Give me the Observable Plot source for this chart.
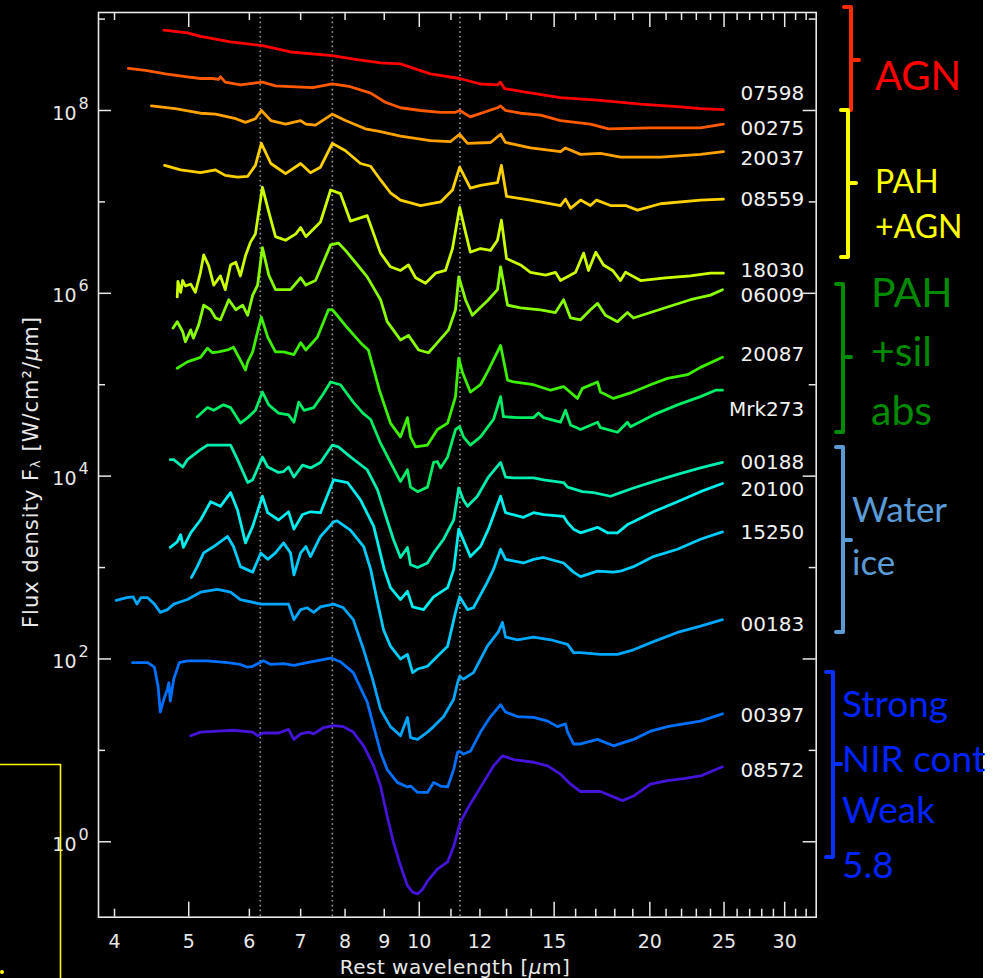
<!DOCTYPE html>
<html><head><meta charset="utf-8">
<script src="https://cdn.jsdelivr.net/npm/d3@7"></script>
<script src="https://cdn.jsdelivr.net/npm/@observablehq/plot@0.6"></script>
<style>html,body{margin:0;padding:0;background:#fff;} #chart svg{display:block;}</style>
</head><body><div id="chart"></div>
<script>
// ---- spectra: rest wavelength (µm) and log10 flux density ----
const wave07598 = [4.64,4.98,5.18,5.67,6.24,6.79,7.70,8.25,8.90,9.45,10.34,11.29,12.02,12.65,12.77,12.92,13.76,15.28,17.24,19.44,21.93,23.29,24.95];
const logF07598 = [8.88,8.85,8.81,8.75,8.71,8.64,8.60,8.56,8.52,8.51,8.40,8.35,8.29,8.28,8.31,8.24,8.20,8.14,8.11,8.07,8.04,8.02,8.01];

const wave00275 = [4.17,4.39,4.66,4.95,5.18,5.37,5.47,5.50,5.58,5.84,6.24,6.49,6.79,7.26,7.70,8.13,8.64,9.03,9.45,10.04,10.66,11.15,11.29,11.66,12.65,12.77,12.96,13.56,14.40,15.29,16.73,17.66,20.04,23.29,24.95];
const logF00275 = [8.46,8.44,8.40,8.37,8.35,8.35,8.34,8.37,8.31,8.28,8.31,8.27,8.26,8.25,8.29,8.26,8.19,8.09,8.03,8.00,7.98,7.98,8.00,7.93,8.03,8.05,8.00,7.97,7.95,7.89,7.85,7.80,7.81,7.81,7.85];

const wave20037 = [4.47,4.80,5.18,5.42,5.76,5.93,6.11,6.22,6.40,6.69,7.00,7.11,7.32,7.70,8.01,8.50,8.90,9.45,10.34,10.98,11.29,11.56,12.39,12.77,12.96,13.97,15.29,15.52,16.24,17.24,18.31,20.65,23.29,24.95];
const logF20037 = [8.05,8.02,7.97,7.96,7.91,7.87,7.91,8.00,7.89,7.85,7.89,7.85,7.84,7.96,7.89,7.80,7.77,7.72,7.67,7.66,7.74,7.64,7.65,7.74,7.65,7.59,7.55,7.59,7.52,7.53,7.49,7.49,7.52,7.55];

const wave08559 = [4.65,4.88,5.18,5.42,5.58,5.79,5.97,6.11,6.22,6.40,6.69,7.00,7.21,7.43,7.70,8.01,8.38,8.64,8.90,9.17,9.45,10.04,10.66,11.05,11.29,11.66,12.02,12.65,12.80,13.00,13.97,15.29,15.52,15.76,16.24,16.73,17.04,17.77,18.59,19.27,20.65,23.29,24.95];
const logF08559 = [7.40,7.35,7.32,7.35,7.29,7.27,7.28,7.40,7.64,7.42,7.31,7.42,7.32,7.38,7.64,7.56,7.42,7.39,7.24,7.10,7.02,6.96,7.00,7.13,7.38,7.15,7.18,7.21,7.40,7.06,7.02,6.96,7.03,6.93,7.02,6.96,7.02,6.96,6.96,6.91,6.98,7.02,7.03];

const wave18030 = [4.83,4.84,4.88,4.91,4.95,5.03,5.10,5.18,5.23,5.31,5.39,5.50,5.58,5.67,5.76,5.84,5.93,6.02,6.11,6.24,6.36,6.49,6.69,6.90,7.00,7.11,7.43,7.66,7.89,8.13,8.55,8.90,9.17,9.45,9.68,9.89,10.19,10.50,10.82,11.05,11.29,11.49,11.66,12.02,12.39,12.65,12.80,13.00,13.56,13.97,14.62,15.06,15.29,16.00,16.39,16.63,17.00,17.40,17.88,18.31,18.59,19.45,20.97,22.60,24.00,24.95];
const logF18030 = [5.96,6.13,6.01,6.14,6.08,6.10,6.01,6.23,6.42,6.30,6.09,6.19,6.04,6.31,6.34,6.19,6.41,6.56,6.65,7.16,6.89,6.62,6.58,6.65,6.72,6.62,6.78,7.13,7.09,6.79,6.85,6.44,6.29,6.25,6.31,6.17,6.11,6.22,6.25,6.49,6.94,6.67,6.45,6.49,6.47,6.58,6.80,6.38,6.31,6.23,6.20,6.23,6.14,6.23,6.44,6.25,6.45,6.31,6.25,6.14,6.23,6.14,6.17,6.19,6.22,6.22];

const wave06009 = [4.77,4.83,4.91,4.95,5.03,5.07,5.15,5.23,5.34,5.42,5.50,5.64,5.76,5.88,5.97,6.06,6.15,6.24,6.36,6.49,6.79,7.00,7.11,7.32,7.66,7.84,8.01,8.25,8.55,8.90,9.08,9.45,9.68,9.98,10.28,10.56,10.92,11.15,11.26,11.49,11.73,12.31,12.65,12.77,13.04,13.56,14.40,15.06,15.43,15.76,16.24,16.73,17.09,17.50,18.15,18.70,19.04,20.04,21.09,22.60,24.00,24.88];
const logF06009 = [5.62,5.69,5.58,5.47,5.60,5.51,5.65,5.87,5.82,5.73,5.71,5.93,5.82,5.87,5.76,5.98,6.09,6.50,6.20,6.04,6.04,6.17,6.09,6.14,6.53,6.55,6.47,6.34,6.18,5.93,5.69,5.49,5.54,5.38,5.35,5.46,5.60,5.82,6.18,5.93,5.76,5.93,6.04,6.29,5.87,5.84,5.82,5.79,5.93,5.73,5.71,5.82,5.89,5.76,5.69,5.79,5.73,5.79,5.85,5.93,5.98,6.04];

const wave20087 = [4.83,4.98,5.18,5.29,5.37,5.47,5.62,5.72,5.84,5.93,5.97,6.06,6.15,6.22,6.34,6.49,6.65,6.86,7.00,7.11,7.36,7.61,7.70,7.81,8.06,8.38,8.58,8.87,9.17,9.45,9.65,9.74,9.89,10.25,10.56,10.89,11.15,11.26,11.39,11.66,12.02,12.31,12.77,13.04,13.28,14.10,14.84,15.43,16.09,16.33,17.09,17.24,17.93,18.87,20.04,21.09,22.40,23.29,24.88];
const logF20087 = [5.18,5.25,5.30,5.40,5.35,5.36,5.38,5.41,5.27,5.16,5.25,5.36,5.58,5.74,5.52,5.36,5.36,5.33,5.46,5.38,5.52,5.82,5.82,5.76,5.62,5.46,5.38,4.94,4.58,4.43,4.64,4.43,4.32,4.34,4.51,4.58,4.87,5.29,5.13,4.92,5.00,5.16,5.43,5.05,5.03,5.00,4.94,4.98,4.85,4.96,5.03,4.92,4.85,4.91,5.00,5.07,5.11,5.19,5.30];

const waveMrk273 = [5.13,5.29,5.39,5.55,5.67,5.84,5.97,6.11,6.24,6.36,6.55,6.75,6.86,6.96,7.07,7.28,7.48,7.66,7.89,8.20,8.44,8.64,8.90,9.17,9.45,9.65,9.74,9.95,10.25,10.44,10.56,10.66,10.89,11.15,11.29,11.42,11.66,12.02,12.50,12.77,12.88,13.43,14.10,14.31,14.53,15.29,15.52,15.76,16.24,17.09,17.24,18.15,18.70,18.87,20.22,21.73,23.29,24.37,24.88];
const logFMrk273 = [4.65,4.75,4.72,4.78,4.75,4.58,4.64,4.72,4.92,4.78,4.69,4.67,4.59,4.81,4.72,4.75,4.89,5.03,5.00,4.81,4.69,4.62,4.36,4.15,3.94,4.07,3.88,3.83,3.88,4.15,4.16,4.09,4.21,4.51,4.54,4.43,4.34,4.43,4.62,4.87,4.65,4.64,4.64,4.69,4.64,4.59,4.72,4.56,4.51,4.59,4.53,4.48,4.59,4.54,4.67,4.78,4.87,4.94,4.94];

const wave00188 = [4.73,4.78,4.91,4.98,5.18,5.29,5.67,5.79,5.97,6.06,6.24,6.34,6.55,6.65,6.75,6.86,7.04,7.21,7.43,7.70,7.84,8.13,8.55,8.82,9.03,9.25,9.45,9.65,9.74,9.95,10.25,10.44,10.76,11.09,11.26,11.42,11.56,11.91,12.31,12.77,12.96,13.28,14.10,14.53,15.43,15.62,16.33,16.89,17.77,18.31,19.04,20.22,21.73,23.29,24.88];
const logF00188 = [4.18,4.18,4.10,4.18,4.29,4.34,4.34,4.18,3.93,3.96,4.21,4.10,4.04,4.05,4.10,3.99,4.12,4.09,4.15,4.34,4.32,4.21,4.07,3.85,3.58,3.31,3.11,3.22,3.03,3.00,3.05,3.16,3.31,3.52,3.87,3.74,3.67,3.78,3.99,4.15,3.99,3.98,3.98,3.96,3.93,3.88,3.83,3.82,3.78,3.82,3.87,3.94,4.02,4.09,4.15];

const wave20100 = [4.73,4.83,4.88,4.92,5.03,5.18,5.34,5.50,5.67,5.79,5.93,6.06,6.24,6.34,6.55,6.75,6.86,7.04,7.21,7.43,7.73,8.06,8.38,8.72,9.00,9.17,9.45,9.65,9.80,10.13,10.44,10.89,11.09,11.26,11.66,12.02,12.31,12.77,12.96,13.68,14.10,14.53,15.43,15.62,15.90,16.24,17.09,17.61,18.15,18.70,19.04,20.22,21.73,23.29,24.88];
const logF20100 = [3.22,3.28,3.36,3.22,3.38,3.52,3.72,3.67,3.82,3.63,3.27,3.45,3.78,3.60,3.52,3.61,3.42,3.58,3.61,3.60,3.96,3.93,3.74,3.45,2.98,2.78,2.65,2.74,2.57,2.54,2.68,2.78,2.98,3.42,3.12,3.23,3.42,3.78,3.60,3.55,3.60,3.58,3.56,3.49,3.42,3.38,3.44,3.38,3.38,3.47,3.50,3.61,3.72,3.83,3.92];

const wave15250 = [5.04,5.13,5.23,5.39,5.62,5.72,5.84,6.06,6.21,6.34,6.49,6.65,6.79,6.86,7.00,7.11,7.21,7.43,7.73,7.81,8.13,8.46,8.64,8.82,8.98,9.17,9.45,9.65,9.80,9.95,10.25,10.56,10.89,11.15,11.29,11.56,11.77,12.27,12.50,12.77,12.96,13.68,14.10,14.53,15.43,15.90,16.24,17.09,17.93,18.31,19.04,20.22,21.73,23.29,24.88];
const logF15250 = [2.89,3.01,3.16,3.23,3.34,3.23,3.01,2.95,3.16,3.09,3.16,3.27,3.16,2.92,3.16,3.23,3.12,3.34,3.50,3.51,3.41,3.23,2.98,2.62,2.32,2.14,2.00,2.05,1.85,1.89,1.92,2.03,2.14,2.51,2.68,2.54,2.56,2.84,2.98,3.20,3.09,3.05,3.09,3.11,3.05,2.95,2.90,2.96,2.95,2.96,3.01,3.12,3.20,3.31,3.39];

const wave00183 = [4.02,4.15,4.23,4.28,4.33,4.42,4.51,4.59,4.69,4.78,4.98,5.18,5.45,5.67,5.84,6.21,6.75,6.86,7.00,7.14,7.28,7.43,7.73,7.96,8.20,8.46,8.69,8.90,9.17,9.45,9.65,9.74,9.95,10.25,10.44,10.76,11.09,11.22,11.29,11.42,11.77,12.27,12.69,12.84,12.96,13.43,14.10,14.84,15.62,15.90,16.24,17.24,18.15,19.04,20.22,21.73,23.29,24.88];
const logF00183 = [2.64,2.67,2.68,2.60,2.67,2.67,2.60,2.51,2.54,2.60,2.65,2.73,2.76,2.73,2.65,2.60,2.60,2.43,2.54,2.56,2.51,2.57,2.60,2.56,2.43,2.10,1.78,1.45,1.26,1.16,1.36,1.14,1.12,1.20,1.26,1.37,1.56,1.74,1.81,1.78,1.85,2.14,2.30,2.40,2.24,2.21,2.24,2.21,2.16,2.07,2.07,2.05,2.05,2.10,2.19,2.29,2.36,2.43];

const wave00397 = [4.22,4.42,4.51,4.56,4.59,4.64,4.69,4.71,4.73,4.78,4.86,4.98,5.29,5.62,5.84,5.97,6.06,6.26,6.40,6.65,6.86,7.14,7.66,7.89,8.20,8.55,8.72,8.90,9.08,9.36,9.65,9.74,9.95,10.25,10.44,10.66,10.89,11.09,11.22,11.29,11.42,11.66,12.02,12.39,12.77,12.96,13.43,14.10,14.71,15.15,15.52,15.62,15.90,16.24,17.09,17.93,19.04,20.04,21.09,22.14,23.29,24.88];
const logF00397 = [1.96,1.96,1.91,1.70,1.42,1.56,1.67,1.74,1.54,1.78,1.96,1.98,1.98,1.96,1.94,1.91,1.92,1.98,1.94,1.95,1.93,1.96,2.01,1.97,1.85,1.53,1.26,0.98,0.79,0.65,0.60,0.61,0.54,0.54,0.65,0.61,0.60,0.79,0.98,0.99,0.96,0.99,1.20,1.37,1.50,1.42,1.37,1.36,1.32,1.26,1.29,1.20,1.07,1.07,1.12,1.05,1.12,1.21,1.26,1.29,1.32,1.40];

const wave08572 = [5.03,5.18,5.45,5.72,6.06,6.15,6.26,6.55,6.75,6.86,7.00,7.17,7.28,7.50,7.73,7.96,8.20,8.46,8.72,8.90,9.08,9.25,9.45,9.65,9.80,9.95,10.10,10.25,10.56,10.89,11.09,11.32,11.56,11.77,12.13,12.50,12.84,13.28,14.10,14.71,15.29,15.76,16.24,17.24,18.42,19.04,20.04,21.09,22.14,23.29,24.88];
const logF08572 = [1.16,1.20,1.21,1.22,1.20,1.16,1.19,1.19,1.23,1.12,1.18,1.20,1.18,1.25,1.27,1.26,1.20,1.05,0.83,0.61,0.28,0.00,-0.26,-0.48,-0.55,-0.57,-0.52,-0.43,-0.30,-0.22,-0.05,0.22,0.36,0.47,0.65,0.83,0.94,0.90,0.87,0.83,0.74,0.63,0.55,0.55,0.45,0.50,0.63,0.67,0.69,0.72,0.82];

// ---- series names, colours, label levels (log10 flux) ----
const names = ["07598","00275","20037","08559","18030","06009","20087","Mrk273","00188","20100","15250","00183","00397","08572"];
const colors = ["#ff0000","#ff5a00","#ffa200","#ffd000","#ccff00","#88ff00","#3cf000","#00ee66","#00eeb0","#00eeee","#00ccff","#00a6ff","#0070ff","#4414d8"];
const labelLogF = [8.19,7.80,7.47,7.02,6.25,5.98,5.33,4.73,4.15,3.85,3.38,2.38,1.38,0.78];
const waves = [wave07598,wave00275,wave20037,wave08559,wave18030,wave06009,wave20087,waveMrk273,wave00188,wave20100,wave15250,wave00183,wave00397,wave08572];
const logFs = [logF07598,logF00275,logF20037,logF08559,logF18030,logF06009,logF20087,logFMrk273,logF00188,logF20100,logF15250,logF00183,logF00397,logF08572];

// ---- axes ----
const featureLines = [6.2, 7.7, 11.3];
const xTickLabels = [4,5,6,7,8,9,10,12,15,20,25,30];
const xMajorTicks = [5,10,15,20,25,30];
const xMinorTicks = [4,6,7,8,9,11,12,13,14,16,17,18,19,21,22,23,24,26,27,28,29,31,32];
const yMajorTicks = [1e0,1e2,1e4,1e6,1e8];
const yMinorTicks = [1e1,1e3,1e5,1e7,1e9];

// ---- category annotations ----
const groupLines = [["AGN"],["PAH","+AGN"],["PAH","+sil","abs"],["Water","ice"],["Strong","NIR cont","Weak","5.8"]];
const groupColors = ["#ff0000","#ffff00","#008a00","#5b9bd5","#0022ff"];

const rows = names.flatMap((n, i) => waves[i].map((w, j) => ({name: n, wl: w, flux: Math.pow(10, logFs[i][j])})));
const labels = names.map((n, i) => ({name: n, flux: Math.pow(10, labelLogF[i])}));

const W = 1006, H = 978;
const fL = 98, fR = 815.7, fT = 12, fB = 916.7;
const pW = fR - fL, pH = fB - fT;
const axisColor = "#e8e8e8";
const font = "DejaVu Sans";

const chart = Plot.plot({
  width: W, height: H,
  marginLeft: fL, marginRight: W - fR, marginTop: fT, marginBottom: H - fB,
  style: {background: "transparent", fontFamily: font, color: axisColor, overflow: "visible"},
  x: {type: "log", domain: [3.812, 32.98], axis: null},
  y: {type: "log", domain: [Math.pow(10, -0.825), Math.pow(10, 9.072)], axis: null},
  color: {domain: names, range: colors},
  marks: [
    Plot.ruleX(featureLines, {stroke: "#9a9a9a", strokeWidth: 1.6, strokeDasharray: "1.6,3.2"}),
    Plot.line(rows, {x: "wl", y: "flux", z: "name", stroke: "name", strokeWidth: 2.8}),
    Plot.frame({stroke: axisColor, strokeWidth: 1.6}),
    Plot.ruleX(xMajorTicks, {stroke: axisColor, strokeWidth: 1.5, insetTop: pH - 15}),
    Plot.ruleX(xMajorTicks, {stroke: axisColor, strokeWidth: 1.5, insetBottom: pH - 15}),
    Plot.ruleX(xMinorTicks, {stroke: axisColor, strokeWidth: 1.5, insetTop: pH - 8}),
    Plot.ruleX(xMinorTicks, {stroke: axisColor, strokeWidth: 1.5, insetBottom: pH - 8}),
    Plot.ruleY(yMajorTicks, {stroke: axisColor, strokeWidth: 1.5, insetRight: pW - 13}),
    Plot.ruleY(yMajorTicks, {stroke: axisColor, strokeWidth: 1.5, insetLeft: pW - 13}),
    Plot.ruleY(yMinorTicks, {stroke: axisColor, strokeWidth: 1.5, insetRight: pW - 7}),
    Plot.ruleY(yMinorTicks, {stroke: axisColor, strokeWidth: 1.5, insetLeft: pW - 7}),
    Plot.text(xTickLabels, {x: d => d, text: d => String(d), frameAnchor: "bottom", dy: 25, lineAnchor: "middle", fontSize: 19, fontFamily: font, fill: axisColor}),
    Plot.text(yMajorTicks, {y: d => d, text: () => "10", frameAnchor: "left", textAnchor: "end", dx: -22, dy: 3, lineAnchor: "middle", fontSize: 19, fontFamily: font, fill: axisColor}),
    Plot.text(yMajorTicks, {y: d => d, text: d => String(Math.round(Math.log10(d))), frameAnchor: "left", textAnchor: "start", dx: -20, dy: -7, lineAnchor: "middle", fontSize: 16, fontFamily: font, fill: axisColor}),
    Plot.text(labels, {y: "flux", text: "name", frameAnchor: "right", textAnchor: "end", dx: -12, lineAnchor: "middle", fontSize: 20, fontFamily: font, fill: "#f2f2f2"})
  ]
});

document.getElementById("chart").appendChild(chart);

// ---- decorations outside the frame ----
const svg = d3.select(chart);
svg.insert("rect", ":first-child").attr("x", 0).attr("y", 0).attr("width", 983).attr("height", H).attr("fill", "#000");

// yellow box bottom-left
svg.append("path").attr("d", "M0,764.5 L60.5,764.5 L60.5,980").attr("fill", "none").attr("stroke", "#ffff00").attr("stroke-width", 1.6);
svg.append("circle").attr("cx", 2).attr("cy", 972).attr("r", 2).attr("fill", "#ffff00");

// axis titles
const xt = svg.append("text").attr("x", 455).attr("y", 968).attr("text-anchor", "middle").attr("dominant-baseline", "middle")
  .attr("font-family", font).attr("font-size", 20).attr("letter-spacing", 0.5).attr("fill", axisColor);
xt.append("tspan").text("Rest wavelength [");
xt.append("tspan").attr("font-style", "italic").text("\u03bc");
xt.append("tspan").text("m]");

const yt = svg.append("text").attr("transform", "translate(32,472) rotate(-90)").attr("text-anchor", "middle").attr("dominant-baseline", "middle")
  .attr("font-family", font).attr("font-size", 21).attr("letter-spacing", 1).attr("fill", axisColor);
yt.append("tspan").text("Flux density F");
yt.append("tspan").attr("font-size", 13).attr("dy", 4).text("\u03bb");
yt.append("tspan").attr("dy", -4).text(" [W/cm\u00b2/");
yt.append("tspan").attr("font-style", "italic").text("\u03bc");
yt.append("tspan").text("m]");

// brackets + category text
const brackets = [
  {x: 851, y1: 7, y2: 110, ym: 60, tx: 875, base: [90], fs: 40, stroke: "#ff2a00"},
  {x: 848, y1: 110, y2: 257, ym: 183, tx: 875, base: [193, 238], fs: 32, stroke: "#ffff00"},
  {x: 843, y1: 284, y2: 432, ym: 357, tx: 871, base: [307, 366, 425], fs: 41, stroke: "#008c00"},
  {x: 843, y1: 447, y2: 632, ym: 540, tx: 852, base: [522, 575], fs: 35, stroke: "#5b9bd5"},
  {x: 833, y1: 672, y2: 857, ym: 764, tx: 842, base: [717, 772, 823, 878], fs: 37, stroke: "#0a30ff"}
];
brackets.forEach((b, i) => {
  svg.append("path")
    .attr("d", `M${b.x - 7},${b.y1} L${b.x},${b.y1} L${b.x},${b.y2} L${b.x - 7},${b.y2} M${b.x},${b.ym} L${b.x + 8},${b.ym}`)
    .attr("fill", "none").attr("stroke", b.stroke).attr("stroke-width", 4).attr("stroke-linejoin", "round").attr("stroke-linecap", "round");
  groupLines[i].forEach((t, k) => {
    svg.append("text").attr("x", b.tx).attr("y", b.base[k]).attr("text-anchor", "start")
      .attr("font-family", "Lato, 'Open Sans', sans-serif")
      .attr("font-size", b.fs).attr("fill", groupColors[i]).text(t);
  });
});
</script>
</body></html>
